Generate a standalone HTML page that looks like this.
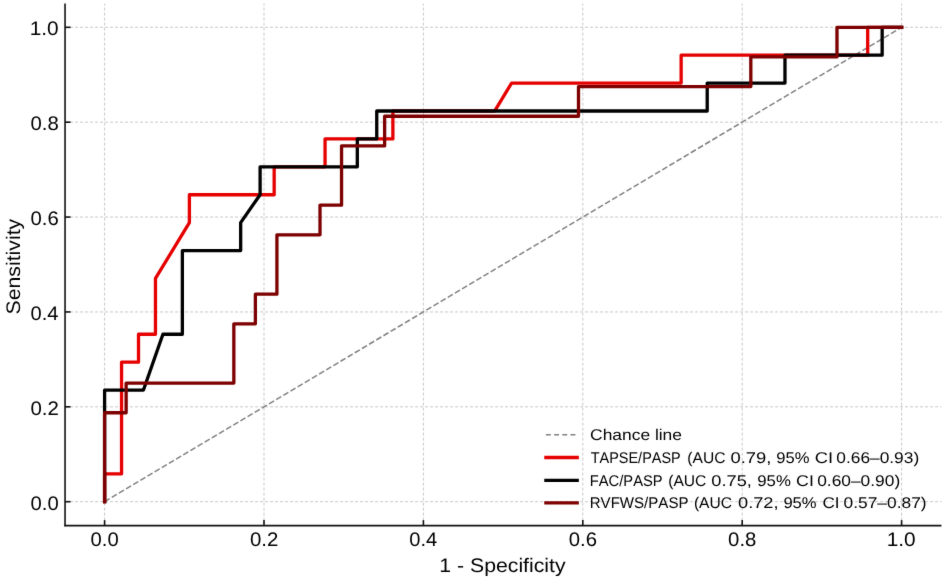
<!DOCTYPE html><html><head><meta charset="utf-8"><style>html,body{margin:0;padding:0;background:#fff;}svg{display:block;}.w{width:944px;height:578px;overflow:hidden;will-change:transform;}text{font-family:"Liberation Sans",sans-serif;font-kerning:none;text-rendering:geometricPrecision;}</style></head><body>
<div class="w">
<svg width="944" height="578" viewBox="0 0 944 578">
<defs><filter id="soft" filterUnits="userSpaceOnUse" x="0" y="0" width="944" height="578" color-interpolation-filters="sRGB"><feConvolveMatrix order="3" kernelMatrix="0.01 0.06 0.01 0.06 0.72 0.06 0.01 0.06 0.01" edgeMode="duplicate" preserveAlpha="true"/></filter></defs>
<g filter="url(#soft)">
<rect x="0" y="0" width="944" height="578" fill="#fff"/>
<g stroke="#c8c8c8" stroke-width="1" stroke-dasharray="3 2" fill="none"><line x1="104.60" y1="525.62" x2="104.60" y2="3.58"/><line x1="65.05" y1="501.70" x2="941.45" y2="501.70"/><line x1="264.00" y1="525.62" x2="264.00" y2="3.58"/><line x1="65.05" y1="406.82" x2="941.45" y2="406.82"/><line x1="423.40" y1="525.62" x2="423.40" y2="3.58"/><line x1="65.05" y1="311.94" x2="941.45" y2="311.94"/><line x1="582.80" y1="525.62" x2="582.80" y2="3.58"/><line x1="65.05" y1="217.06" x2="941.45" y2="217.06"/><line x1="742.20" y1="525.62" x2="742.20" y2="3.58"/><line x1="65.05" y1="122.18" x2="941.45" y2="122.18"/><line x1="901.60" y1="525.62" x2="901.60" y2="3.58"/><line x1="65.05" y1="27.30" x2="941.45" y2="27.30"/></g>
<line x1="104.60" y1="501.70" x2="901.60" y2="27.30" stroke="#808080" stroke-width="1.5" stroke-dasharray="5.83 2.49" stroke-dashoffset="0.0"/>
<polyline points="104.60,501.70 104.60,473.79 121.56,473.79 121.56,362.17 138.51,362.17 138.51,334.26 155.47,334.26 155.47,278.45 189.39,222.64 189.39,194.74 274.17,194.74 274.17,166.83 325.05,166.83 325.05,138.92 392.88,138.92 392.88,111.02 494.62,111.02 511.58,83.11 681.15,83.11 681.15,55.21 867.69,55.21 867.69,27.30 901.60,27.30" fill="none" stroke="#e60000" stroke-width="3.3" stroke-linejoin="round" stroke-linecap="square"/>
<polyline points="104.60,501.70 104.60,390.08 143.48,390.08 162.92,334.26 182.36,334.26 182.36,250.55 240.67,250.55 240.67,222.64 260.11,194.74 260.11,166.83 357.31,166.83 357.31,138.92 376.75,138.92 376.75,111.02 707.21,111.02 707.21,83.11 784.97,83.11 784.97,55.21 882.16,55.21 882.16,27.30 901.60,27.30" fill="none" stroke="#000000" stroke-width="3.3" stroke-linejoin="round" stroke-linecap="square"/>
<polyline points="104.60,501.70 104.60,412.75 126.14,412.75 126.14,383.10 233.84,383.10 233.84,323.80 255.38,323.80 255.38,294.15 276.92,294.15 276.92,234.85 320.01,234.85 320.01,205.20 341.55,205.20 341.55,145.90 384.63,145.90 384.63,116.25 578.49,116.25 578.49,86.60 750.82,86.60 750.82,56.95 836.98,56.95 836.98,27.30 901.60,27.30" fill="none" stroke="#7d0000" stroke-width="3.3" stroke-linejoin="round" stroke-linecap="square"/>
<g stroke="#111" stroke-width="1.6" fill="none">
<line x1="65.05" y1="3.58" x2="65.05" y2="526.32"/>
<line x1="64.35" y1="525.62" x2="941.45" y2="525.62"/>
<line x1="104.60" y1="525.62" x2="104.60" y2="520.12"/>
<line x1="65.05" y1="501.70" x2="70.55" y2="501.70"/>
<line x1="264.00" y1="525.62" x2="264.00" y2="520.12"/>
<line x1="65.05" y1="406.82" x2="70.55" y2="406.82"/>
<line x1="423.40" y1="525.62" x2="423.40" y2="520.12"/>
<line x1="65.05" y1="311.94" x2="70.55" y2="311.94"/>
<line x1="582.80" y1="525.62" x2="582.80" y2="520.12"/>
<line x1="65.05" y1="217.06" x2="70.55" y2="217.06"/>
<line x1="742.20" y1="525.62" x2="742.20" y2="520.12"/>
<line x1="65.05" y1="122.18" x2="70.55" y2="122.18"/>
<line x1="901.60" y1="525.62" x2="901.60" y2="520.12"/>
<line x1="65.05" y1="27.30" x2="70.55" y2="27.30"/>
</g>
<g fill="#000000"><text x="90.51" y="545.80" font-size="19.6" textLength="28.18" lengthAdjust="spacingAndGlyphs">0.0</text><text x="30.51" y="509.70" font-size="19.6" textLength="28.18" lengthAdjust="spacingAndGlyphs">0.0</text><text x="249.90" y="545.80" font-size="19.6" textLength="28.43" lengthAdjust="spacingAndGlyphs">0.2</text><text x="30.50" y="414.82" font-size="19.6" textLength="28.43" lengthAdjust="spacingAndGlyphs">0.2</text><text x="409.31" y="545.80" font-size="19.6" textLength="27.98" lengthAdjust="spacingAndGlyphs">0.4</text><text x="30.51" y="319.94" font-size="19.6" textLength="27.98" lengthAdjust="spacingAndGlyphs">0.4</text><text x="568.71" y="545.80" font-size="19.6" textLength="28.29" lengthAdjust="spacingAndGlyphs">0.6</text><text x="30.51" y="225.06" font-size="19.6" textLength="28.29" lengthAdjust="spacingAndGlyphs">0.6</text><text x="728.11" y="545.80" font-size="19.6" textLength="28.28" lengthAdjust="spacingAndGlyphs">0.8</text><text x="30.51" y="130.18" font-size="19.6" textLength="28.28" lengthAdjust="spacingAndGlyphs">0.8</text><text x="886.71" y="545.80" font-size="19.6" textLength="29.00" lengthAdjust="spacingAndGlyphs">1.0</text><text x="29.71" y="35.30" font-size="19.6" textLength="29.00" lengthAdjust="spacingAndGlyphs">1.0</text></g>
<g fill="#000000"><text x="439.28" y="571.60" font-size="19.6" textLength="126.36" lengthAdjust="spacingAndGlyphs">1 - Specificity</text></g>
<g fill="#000000" transform="rotate(-90)"><text x="-314.46" y="20.30" font-size="19.6" textLength="95.61" lengthAdjust="spacingAndGlyphs">Sensitivity</text></g>
<line x1="545.9" y1="434.8" x2="577.2" y2="434.8" stroke="#808080" stroke-width="1.6" stroke-dasharray="4.9 3.3"/>
<line x1="545.9" y1="457.5" x2="577.2" y2="457.5" stroke="#e60000" stroke-width="3.3" stroke-linecap="square"/>
<line x1="545.9" y1="480.4" x2="577.2" y2="480.4" stroke="#000000" stroke-width="3.3" stroke-linecap="square"/>
<line x1="545.9" y1="502.9" x2="577.2" y2="502.9" stroke="#7d0000" stroke-width="3.3" stroke-linecap="square"/>
<g fill="#000000"><text x="590.12" y="440.20" font-size="15.5" textLength="91.86" lengthAdjust="spacingAndGlyphs">Chance line</text><text x="590.67" y="463.00" font-size="15.5" textLength="90.09" lengthAdjust="spacingAndGlyphs">TAPSE/PASP</text><text x="687.33" y="463.00" font-size="15.5" textLength="38.16" lengthAdjust="spacingAndGlyphs">(AUC</text><text x="730.48" y="463.00" font-size="15.5" textLength="40.87" lengthAdjust="spacingAndGlyphs">0.79,</text><text x="776.32" y="463.00" font-size="15.5" textLength="33.17" lengthAdjust="spacingAndGlyphs">95%</text><text x="814.67" y="463.00" font-size="15.5" textLength="18.32" lengthAdjust="spacingAndGlyphs">CI</text><text x="836.32" y="463.00" font-size="15.5" textLength="82.85" lengthAdjust="spacingAndGlyphs">0.66–0.93)</text><text x="589.79" y="485.90" font-size="15.5" textLength="72.89" lengthAdjust="spacingAndGlyphs">FAC/PASP</text><text x="668.23" y="485.90" font-size="15.5" textLength="38.16" lengthAdjust="spacingAndGlyphs">(AUC</text><text x="711.39" y="485.90" font-size="15.5" textLength="40.44" lengthAdjust="spacingAndGlyphs">0.75,</text><text x="757.31" y="485.90" font-size="15.5" textLength="33.58" lengthAdjust="spacingAndGlyphs">95%</text><text x="796.10" y="485.90" font-size="15.5" textLength="17.74" lengthAdjust="spacingAndGlyphs">CI</text><text x="817.22" y="485.90" font-size="15.5" textLength="82.95" lengthAdjust="spacingAndGlyphs">0.60–0.90)</text><text x="589.76" y="508.20" font-size="15.5" textLength="98.73" lengthAdjust="spacingAndGlyphs">RVFWS/PASP</text><text x="693.93" y="508.20" font-size="15.5" textLength="38.16" lengthAdjust="spacingAndGlyphs">(AUC</text><text x="738.09" y="508.20" font-size="15.5" textLength="40.44" lengthAdjust="spacingAndGlyphs">0.72,</text><text x="783.42" y="508.20" font-size="15.5" textLength="33.17" lengthAdjust="spacingAndGlyphs">95%</text><text x="822.43" y="508.20" font-size="15.5" textLength="17.04" lengthAdjust="spacingAndGlyphs">CI</text><text x="843.62" y="508.20" font-size="15.5" textLength="82.95" lengthAdjust="spacingAndGlyphs">0.57–0.87)</text></g>
</g></svg></div></body></html>
